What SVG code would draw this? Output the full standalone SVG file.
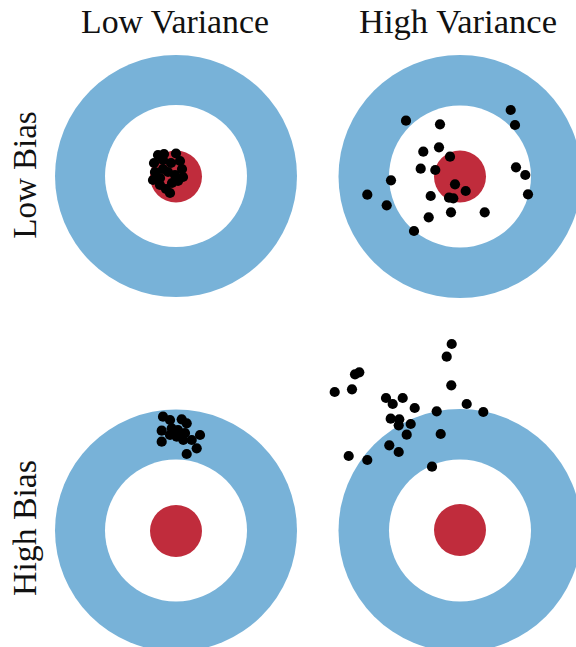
<svg xmlns="http://www.w3.org/2000/svg" width="576" height="647" viewBox="0 0 576 647">
<style>
.outer{fill:#78b2d8}
.inner{fill:#ffffff}
.bull{fill:#c02c3c}
.dots circle{fill:#000000;r:5.1px}
.lbl{font-family:"Liberation Serif","DejaVu Serif",serif;font-size:33px;fill:#111111;text-anchor:middle}
</style>
<rect width="576" height="647" fill="#ffffff"/>
<g id="labels">
<text class="lbl" x="175" y="33" textLength="188" lengthAdjust="spacingAndGlyphs">Low Variance</text>
<text class="lbl" x="458" y="33" textLength="198" lengthAdjust="spacingAndGlyphs">High Variance</text>
<text class="lbl" transform="translate(36 175) rotate(-90)">Low Bias</text>
<text class="lbl" transform="translate(36 528) rotate(-90)" textLength="136" lengthAdjust="spacingAndGlyphs">High Bias</text>
</g>
<g id="target-low-bias-low-variance">
<circle class="outer" cx="176" cy="176" r="121"/>
<circle class="inner" cx="176" cy="176" r="71"/>
<circle class="bull" cx="176" cy="176.5" r="26"/>
<g class="dots">
<circle cx="158" cy="155" r="5.1"/><circle cx="164" cy="154" r="5.1"/><circle cx="176" cy="153.5" r="5.1"/>
<circle cx="154" cy="163" r="5.1"/><circle cx="163" cy="160" r="5.1"/><circle cx="171" cy="163" r="5.1"/>
<circle cx="180" cy="161" r="5.1"/><circle cx="182" cy="169" r="5.1"/><circle cx="155" cy="172" r="5.1"/>
<circle cx="163" cy="169" r="5.1"/><circle cx="168" cy="172" r="5.1"/><circle cx="183" cy="177" r="5.1"/>
<circle cx="153" cy="180" r="5.1"/><circle cx="160" cy="185" r="5.1"/><circle cx="172" cy="183" r="5.1"/>
<circle cx="178" cy="181" r="5.1"/><circle cx="175" cy="175" r="5.1"/><circle cx="166" cy="189" r="5.1"/>
<circle cx="170" cy="193" r="5.1"/><circle cx="160" cy="178" r="5.1"/>
</g>
</g>
<g id="target-low-bias-high-variance">
<circle class="outer" cx="460" cy="176.5" r="121.5"/>
<circle class="inner" cx="460" cy="176.5" r="71"/>
<circle class="bull" cx="460" cy="176.5" r="26"/>
<g class="dots">
<circle cx="406" cy="120.7" r="5.1"/><circle cx="440" cy="124.3" r="5.1"/><circle cx="510.7" cy="110" r="5.1"/>
<circle cx="515" cy="125" r="5.1"/><circle cx="423.3" cy="151.7" r="5.1"/><circle cx="439" cy="147.3" r="5.1"/>
<circle cx="450" cy="156.7" r="5.1"/><circle cx="420.7" cy="168.7" r="5.1"/><circle cx="435.3" cy="170" r="5.1"/>
<circle cx="516" cy="167.3" r="5.1"/><circle cx="525.3" cy="175" r="5.1"/><circle cx="391" cy="180.3" r="5.1"/>
<circle cx="455" cy="184.3" r="5.1"/><circle cx="465.7" cy="191" r="5.1"/><circle cx="528" cy="194.3" r="5.1"/>
<circle cx="367.3" cy="194.7" r="5.1"/><circle cx="430.7" cy="196" r="5.1"/><circle cx="449" cy="197.7" r="5.1"/>
<circle cx="453.3" cy="198.3" r="5.1"/><circle cx="386.7" cy="205.3" r="5.1"/><circle cx="451" cy="212.3" r="5.1"/>
<circle cx="484.7" cy="212.3" r="5.1"/><circle cx="428.7" cy="217.3" r="5.1"/><circle cx="414" cy="231" r="5.1"/>
</g>
</g>
<g id="target-high-bias-low-variance">
<circle class="outer" cx="176" cy="530.5" r="121"/>
<circle class="inner" cx="176" cy="530.5" r="71"/>
<circle class="bull" cx="176" cy="531" r="26"/>
<g class="dots">
<circle cx="163" cy="416.7" r="5.1"/><circle cx="170" cy="420" r="5.1"/><circle cx="181.7" cy="419.3" r="5.1"/>
<circle cx="186.7" cy="423.3" r="5.1"/><circle cx="161.7" cy="430.7" r="5.1"/><circle cx="171.7" cy="428.3" r="5.1"/>
<circle cx="178" cy="430" r="5.1"/><circle cx="176.7" cy="436.7" r="5.1"/><circle cx="185" cy="433" r="5.1"/>
<circle cx="200" cy="435" r="5.1"/><circle cx="191.7" cy="440" r="5.1"/><circle cx="183.3" cy="440" r="5.1"/>
<circle cx="161.7" cy="441.7" r="5.1"/><circle cx="196.7" cy="448.3" r="5.1"/><circle cx="186.7" cy="454" r="5.1"/>
<circle cx="170" cy="435" r="5.1"/>
</g>
</g>
<g id="target-high-bias-high-variance">
<circle class="outer" cx="460" cy="530.5" r="121.5"/>
<circle class="inner" cx="460" cy="530.5" r="71"/>
<circle class="bull" cx="460" cy="530" r="26"/>
<g class="dots">
<circle cx="451.7" cy="344" r="5.1"/><circle cx="446.7" cy="356.7" r="5.1"/><circle cx="355" cy="374.3" r="5.1"/>
<circle cx="359.3" cy="372.3" r="5.1"/><circle cx="334.7" cy="392" r="5.1"/><circle cx="352" cy="389.3" r="5.1"/>
<circle cx="451.3" cy="385.3" r="5.1"/><circle cx="386" cy="398" r="5.1"/><circle cx="392.7" cy="404" r="5.1"/>
<circle cx="402.7" cy="398" r="5.1"/><circle cx="414.7" cy="408" r="5.1"/><circle cx="436.7" cy="411.3" r="5.1"/>
<circle cx="466.7" cy="404" r="5.1"/><circle cx="483.3" cy="412" r="5.1"/><circle cx="390.7" cy="418.7" r="5.1"/>
<circle cx="399.3" cy="419.3" r="5.1"/><circle cx="398.7" cy="425.3" r="5.1"/><circle cx="410.7" cy="424" r="5.1"/>
<circle cx="406.7" cy="434.7" r="5.1"/><circle cx="440.7" cy="434" r="5.1"/><circle cx="389.3" cy="445.3" r="5.1"/>
<circle cx="398.7" cy="452" r="5.1"/><circle cx="348.7" cy="456" r="5.1"/><circle cx="367.3" cy="460" r="5.1"/>
<circle cx="432" cy="466.7" r="5.1"/>
</g>
</g>
<g id="connectors"/>
</svg>
